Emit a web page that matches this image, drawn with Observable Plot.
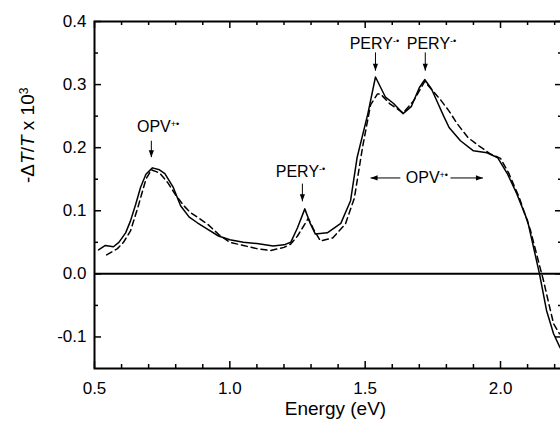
<!DOCTYPE html>
<html><head><meta charset="utf-8">
<script src="https://cdn.jsdelivr.net/npm/d3@7"></script>
<script src="https://cdn.jsdelivr.net/npm/@observablehq/plot@0.6"></script>
<style>
html,body{margin:0;padding:0;background:#fff;overflow:hidden;}
#chart{width:560px;height:427px;overflow:hidden;}
</style></head><body><div id="chart"></div>
<script>
// Solid curve (energy eV, -dT/T x 10^3)
const solidE = [0.515,0.54,0.57,0.59,0.615,0.633,0.652,0.67,0.69,0.714,0.74,0.76,0.79,0.818,0.85,0.88,0.92,0.958,1.0,1.05,1.1,1.16,1.2,1.225,1.25,1.277,1.297,1.316,1.36,1.41,1.446,1.47,1.51,1.538,1.575,1.605,1.64,1.67,1.70,1.72,1.745,1.767,1.79,1.81,1.852,1.90,1.95,1.99,2.025,2.06,2.10,2.144,2.17,2.196,2.22];
const solidV = [0.038,0.045,0.043,0.05,0.065,0.084,0.11,0.137,0.158,0.168,0.165,0.159,0.138,0.108,0.09,0.081,0.07,0.06,0.054,0.05,0.048,0.044,0.046,0.05,0.073,0.103,0.08,0.063,0.065,0.08,0.116,0.184,0.254,0.312,0.28,0.27,0.254,0.265,0.295,0.308,0.293,0.272,0.25,0.232,0.211,0.195,0.192,0.184,0.159,0.127,0.084,0.0,-0.058,-0.095,-0.117];
// Dashed curve
const dashE = [0.545,0.585,0.607,0.633,0.66,0.69,0.71,0.74,0.77,0.80,0.83,0.855,0.88,0.92,0.96,1.0,1.05,1.1,1.15,1.2,1.224,1.25,1.29,1.31,1.335,1.38,1.427,1.46,1.49,1.52,1.545,1.557,1.59,1.64,1.68,1.72,1.75,1.78,1.81,1.84,1.88,1.92,1.963,2.0,2.03,2.07,2.11,2.14,2.159,2.18,2.196,2.218];
const dashV = [0.03,0.04,0.05,0.068,0.105,0.15,0.165,0.16,0.145,0.125,0.108,0.097,0.09,0.078,0.062,0.05,0.045,0.04,0.037,0.042,0.047,0.06,0.088,0.07,0.052,0.057,0.079,0.12,0.2,0.268,0.285,0.285,0.27,0.255,0.275,0.305,0.29,0.275,0.258,0.238,0.216,0.203,0.19,0.183,0.16,0.12,0.07,0.02,-0.011,-0.05,-0.079,-0.095];

const xMajor = [0.5,1.0,1.5,2.0];
const xMinor = [0.6,0.7,0.8,0.9,1.1,1.2,1.3,1.4,1.6,1.7,1.8,1.9,2.1,2.2];
const yMajor = [-0.1,0.0,0.1,0.2,0.3,0.4];
const yMinor = [-0.05,0.05,0.15,0.25,0.35];

// Annotations
const annLabel = ["OPV","PERY","PERY","PERY","OPV"];
const annSup = ["+\u2022","-\u2022","-\u2022","-\u2022","+\u2022"];
const annE = [0.735,1.261,1.534,1.745,1.728];
const annV = [0.2325,0.162,0.364,0.364,0.152];
const arrE1 = [0.71,1.268,1.538,1.722,1.63,1.815];
const arrV1 = [0.211,0.143,0.351,0.351,0.152,0.152];
const arrE2 = [0.71,1.268,1.538,1.722,1.52,1.935];
const arrV2 = [0.185,0.115,0.322,0.322,0.152,0.152];
const xTitle = "Energy (eV)";
const yTitle = "-\u0394T/T x 103";

const solid = solidE.map((e,i)=>({e, v: solidV[i]}));
const dashed = dashE.map((e,i)=>({e, v: dashV[i]}));
const ann = annLabel.map((t,i)=>({t, s: annSup[i], e: annE[i], v: annV[i]}));
const arrows = arrE1.map((e,i)=>({
  e1: e, v1: arrV1[i], e2: arrE2[i], v2: arrV2[i],
  rot: arrE2[i] === e ? (arrV2[i] < arrV1[i] ? 180 : 0) : (arrE2[i] < e ? 270 : 90)
}));
const fmt = d => d.toFixed(1);

const W = 566, H = 427, ML = 94, MR = 4, MT = 21, MB = 59;
const XD = [0.5, 2.229], YD = [-0.15, 0.4];
const PW = W - ML - MR, PH = H - MT - MB;
// tick lengths (px) converted to data units of each scale
const MAJ = 7, MIN = 4;
const ux = (XD[1] - XD[0]) / PW, uy = (YD[1] - YD[0]) / PH;

// filled triangular arrowhead, tip at the anchor point
const headShape = {draw(ctx, l) { ctx.moveTo(0, 0); ctx.lineTo(-2.6, l); ctx.lineTo(2.6, l); ctx.closePath(); }};

const plot = Plot.plot({
  width: W, height: H,
  marginLeft: ML, marginRight: MR, marginTop: MT, marginBottom: MB,
  x: {domain: XD, label: null},
  y: {domain: YD, label: null},
  axis: null,
  style: {fontFamily: "'Liberation Sans', Arial, sans-serif", fontSize: "17px", color: "#000", background: "#fff", maxWidth: "none"},
  marks: [
    Plot.ruleY([0], {strokeWidth: 2}),
    Plot.line(dashed, {x: "e", y: "v", stroke: "#000", strokeWidth: 1.5, strokeDasharray: "6,4"}),
    Plot.line(solid, {x: "e", y: "v", stroke: "#000", strokeWidth: 1.5}),
    // inward ticks (bottom, top, left, right)
    Plot.ruleX(xMajor, {x: d => d, y1: YD[0], y2: YD[0] + MAJ * uy, stroke: "#000", strokeWidth: 1.5}),
    Plot.ruleX(xMinor, {x: d => d, y1: YD[0], y2: YD[0] + MIN * uy, stroke: "#000", strokeWidth: 1.5}),
    Plot.ruleX(xMajor, {x: d => d, y1: YD[1], y2: YD[1] - MAJ * uy, stroke: "#000", strokeWidth: 1.5}),
    Plot.ruleX(xMinor, {x: d => d, y1: YD[1], y2: YD[1] - MIN * uy, stroke: "#000", strokeWidth: 1.5}),
    Plot.ruleY(yMajor, {y: d => d, x1: XD[0], x2: XD[0] + MAJ * ux, stroke: "#000", strokeWidth: 1.5}),
    Plot.ruleY(yMinor, {y: d => d, x1: XD[0], x2: XD[0] + MIN * ux, stroke: "#000", strokeWidth: 1.5}),
    Plot.ruleY(yMajor, {y: d => d, x1: XD[1], x2: XD[1] - MAJ * ux, stroke: "#000", strokeWidth: 1.5}),
    Plot.ruleY(yMinor, {y: d => d, x1: XD[1], x2: XD[1] - MIN * ux, stroke: "#000", strokeWidth: 1.5}),
    // tick labels
    Plot.axisX(xMajor, {anchor: "bottom", tickSize: 0, tickPadding: 13, tickFormat: fmt, label: null}),
    Plot.axisY(yMajor, {anchor: "left", tickSize: 0, tickPadding: 8, tickFormat: fmt, label: null}),
    Plot.frame({strokeWidth: 2}),
    // annotation arrows: shafts + filled heads
    Plot.link(arrows, {x1: "e1", y1: "v1", x2: "e2", y2: "v2", stroke: "#000", strokeWidth: 1}),
    Plot.vector(arrows, {x: "e2", y: "v2", rotate: "rot", length: 7, anchor: "start", shape: headShape, fill: "#000", stroke: "none"}),
    Plot.text(ann, {x: "e", y: "v", text: "t", fontSize: 16, fill: "#000"}),
    Plot.text([xTitle], {frameAnchor: "bottom", dy: 46, dx: 7, fontSize: 19, fill: "#000"}),
    Plot.text([yTitle], {frameAnchor: "left", dx: -67, dy: -12, rotate: -90, fontSize: 19, fill: "#000"})
  ]
});
document.getElementById("chart").appendChild(plot);

const svg = d3.select(plot);
svg.selectAll("text").filter(function() { return annLabel.includes(this.textContent); })
  .each(function(d, i) {
    d3.select(this).append("tspan").attr("dy", "-0.55em").attr("font-size", "9px").text(annSup[i]);
  });
const yt = svg.selectAll("text").filter(function() { return this.textContent === yTitle; });
yt.text(null);
yt.append("tspan").text("-\u0394");
yt.append("tspan").attr("font-style", "italic").text("T");
yt.append("tspan").text("/");
yt.append("tspan").attr("font-style", "italic").text("T");
yt.append("tspan").text(" x 10");
yt.append("tspan").attr("dy", "-0.5em").attr("font-size", "12px").text("3");
</script>
</body></html>
